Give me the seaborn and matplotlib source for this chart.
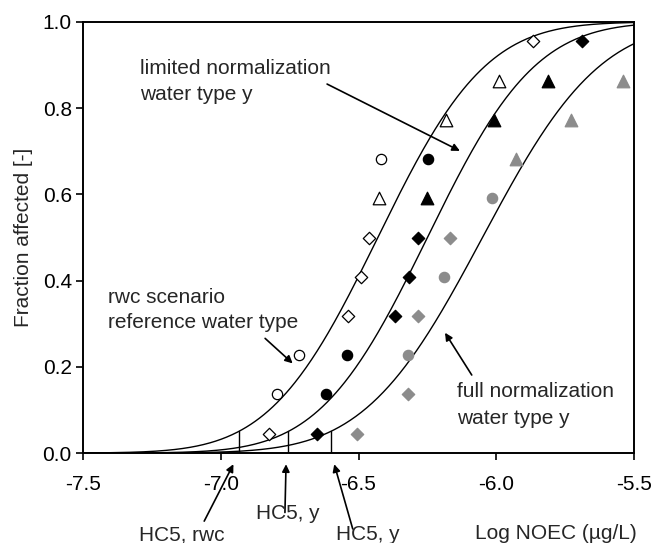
import math
import numpy as np
import pandas as pd
import matplotlib
matplotlib.use("Agg")
import matplotlib.pyplot as plt
from matplotlib.ticker import FormatStrFormatter
import seaborn as sns

# ---------------- data ----------------
fraction = [0.045, 0.136, 0.227, 0.318, 0.409, 0.500, 0.591, 0.682, 0.773, 0.864, 0.955]

rwc_x = [-6.824, -6.797, -6.716, -6.539, -6.491, -6.462, -6.424, -6.418, -6.184, -5.989, -5.868]
rwc_shape = ["diamond", "circle", "circle", "diamond", "diamond", "diamond",
             "triangle", "circle", "triangle", "triangle", "diamond"]

lim_x = [-6.652, -6.619, -6.543, -6.368, -6.316, -6.285, -6.250, -6.247, -6.008, -5.813, -5.690]
lim_shape = ["diamond", "circle", "circle", "diamond", "diamond", "diamond",
             "triangle", "circle", "triangle", "triangle", "diamond"]

full_fraction = [0.045, 0.136, 0.227, 0.318, 0.409, 0.500, 0.591, 0.682, 0.773, 0.864]
full_x = [-6.504, -6.319, -6.319, -6.285, -6.189, -6.168, -6.017, -5.928, -5.729, -5.541]
full_shape = ["diamond", "diamond", "circle", "diamond", "circle", "diamond",
              "circle", "triangle", "triangle", "triangle"]

# fitted log-normal SSD curves (mean, sd of log NOEC)
curve_mu = [-6.43, -6.25, -6.05]
curve_sigma = [0.307, 0.307, 0.335]
hc5_values = [-6.935, -6.755, -6.601]

x_ticks = [-7.5, -7.0, -6.5, -6.0, -5.5]
y_ticks = [0.0, 0.2, 0.4, 0.6, 0.8, 1.0]

# ---------------- style ----------------
sns.set_theme(style="ticks")
plt.rcParams["font.family"] = ["Liberation Sans", "DejaVu Sans"]
plt.rcParams["axes.unicode_minus"] = False
FS = 15

fig = plt.figure(figsize=(6.56, 5.43), dpi=100)
ax = fig.add_axes([0.1265, 0.1657, 0.84, 0.7938])

GRAY = "#8c8c8c"
series = [
    ("rwc", rwc_x, fraction, rwc_shape, "white", "black"),
    ("limited", lim_x, fraction, lim_shape, "black", "black"),
    ("full", full_x, full_fraction, full_shape, GRAY, GRAY),
]
marker_of = {"circle": "o", "triangle": "^", "diamond": "D"}
size_of = {"circle": 55, "triangle": 82, "diamond": 40}

rows = []
for name, xs, ys, shapes, fc, ec in series:
    for xv, yv, sh in zip(xs, ys, shapes):
        rows.append(dict(series=name, x=xv, y=yv, shape=sh, fc=fc, ec=ec))
df = pd.DataFrame(rows)

# curves
grid = np.linspace(-7.5, -5.5, 500)
for mu, sd in zip(curve_mu, curve_sigma):
    cdf = [0.5 * (1 + math.erf((g - mu) / (sd * math.sqrt(2)))) for g in grid]
    sns.lineplot(x=grid, y=cdf, color="black", lw=1.0, ax=ax, zorder=2)

# HC5 vertical markers
for h in hc5_values:
    ax.plot([h, h], [0, 0.05], color="black", lw=1.0, zorder=2)

# points
for (name, sh), g in df.groupby(["series", "shape"]):
    sns.scatterplot(data=g, x="x", y="y", marker=marker_of[sh], s=size_of[sh],
                    color=g["fc"].iloc[0], edgecolor=g["ec"].iloc[0],
                    linewidth=0.9, ax=ax, zorder=3, legend=False)

ax.set_xlim(-7.5, -5.5)
ax.set_ylim(0.0, 1.0)
ax.set_xticks(x_ticks)
ax.set_yticks(y_ticks)
ax.xaxis.set_major_formatter(FormatStrFormatter("%.1f"))
ax.yaxis.set_major_formatter(FormatStrFormatter("%.1f"))
ax.tick_params(axis="both", direction="out", length=5, width=1.2, labelsize=FS,
               colors="black")
ax.tick_params(axis="x", pad=11)
ax.tick_params(axis="y", pad=3)
for sp in ax.spines.values():
    sp.set_linewidth(1.4)
    sp.set_color("black")

ax.set_ylabel("Fraction affected [-]", fontsize=FS, labelpad=7)
ax.set_xlabel("Log NOEC (\u00b5g/L)", fontsize=FS, loc="right")
ax.xaxis.set_label_coords(1.005, -0.165)

# annotations inside
ax.text(-7.293, 0.879, "limited normalization", fontsize=FS, ha="left", va="baseline")
ax.text(-7.293, 0.818, "water type y", fontsize=FS, ha="left", va="baseline")
ax.text(-7.408, 0.347, "rwc scenario", fontsize=FS, ha="left", va="baseline")
ax.text(-7.408, 0.289, "reference water type", fontsize=FS, ha="left", va="baseline")
ax.text(-6.141, 0.129, "full normalization", fontsize=FS, ha="left", va="baseline")
ax.text(-6.141, 0.067, "water type y", fontsize=FS, ha="left", va="baseline")

arrow = dict(arrowstyle="-|>", color="black", lw=1.2, mutation_scale=11,
             shrinkA=0, shrinkB=0)
ax.annotate("", xy=(-6.132, 0.701), xytext=(-6.614, 0.856), arrowprops=arrow)
ax.annotate("", xy=(-6.739, 0.208), xytext=(-6.839, 0.266), arrowprops=arrow)
ax.annotate("", xy=(-6.186, 0.279), xytext=(-6.089, 0.181), arrowprops=arrow)

# annotations below the axis
ax.annotate("", xy=(-6.954, -0.026), xytext=(-7.060, -0.158), arrowprops=arrow,
            annotation_clip=False)
ax.annotate("", xy=(-6.763, -0.026), xytext=(-6.767, -0.138), arrowprops=arrow,
            annotation_clip=False)
ax.annotate("", xy=(-6.588, -0.026), xytext=(-6.521, -0.176), arrowprops=arrow,
            annotation_clip=False)
ax.text(-7.141, -0.202, "HC5, rwc", fontsize=FS, ha="center", va="baseline")
ax.text(-6.757, -0.153, "HC5, y", fontsize=FS, ha="center", va="baseline")
ax.text(-6.468, -0.202, "HC5, y", fontsize=FS, ha="center", va="baseline")

fig.savefig("out.png", dpi=100)
